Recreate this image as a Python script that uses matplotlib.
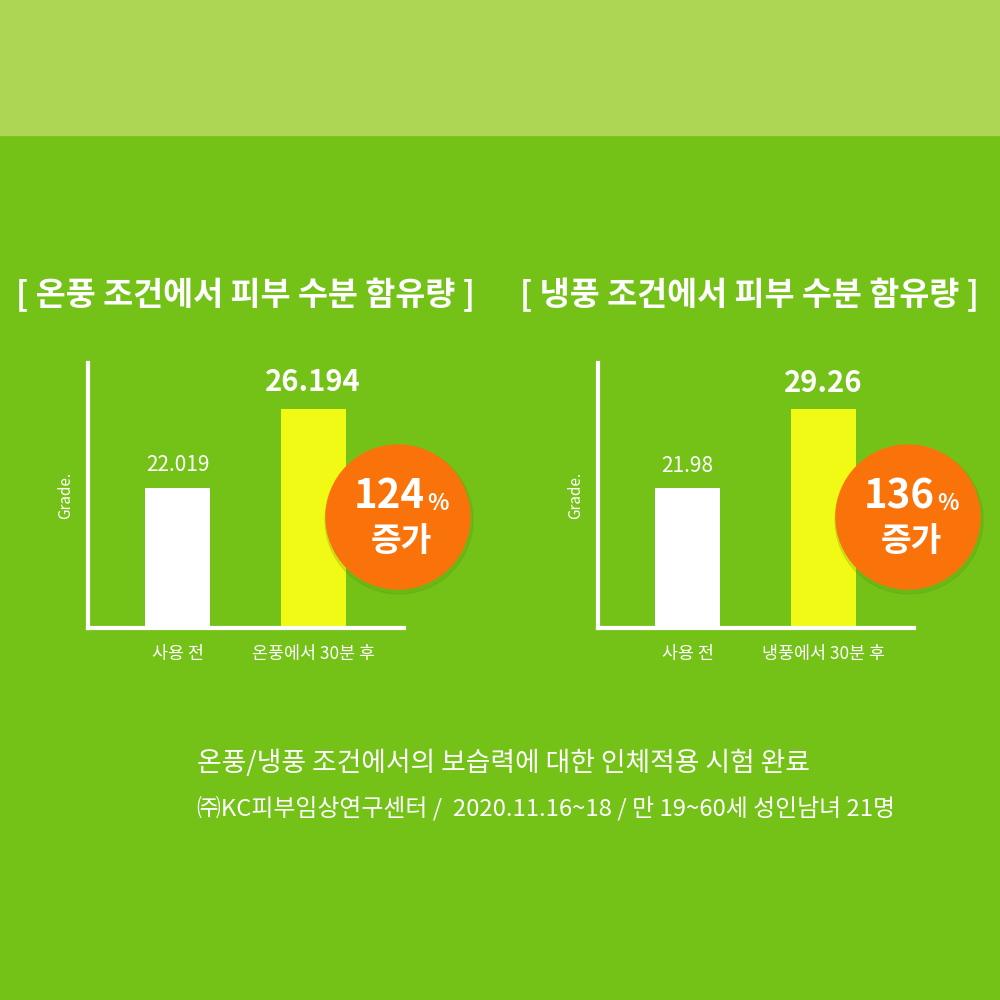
import matplotlib.pyplot as plt
from matplotlib.patches import Rectangle, Circle

plt.rcParams['font.family'] = ['Noto Sans CJK KR', 'DejaVu Sans']

# data
titles = ['[ 온풍 조건에서 피부 수분 함유량 ]', '[ 냉풍 조건에서 피부 수분 함유량 ]']
before_labels = ['사용 전', '사용 전']
after_labels = ['온풍에서 30분 후', '냉풍에서 30분 후']
before_vals = [22.019, 21.98]
after_vals = [26.194, 29.26]
val_text = [['22.019', '26.194'], ['21.98', '29.26']]
increase = ['124', '136']
ylims = [(14.6, 28.6), (9.1, 33.5)]

footer1 = '온풍/냉풍 조건에서의 보습력에 대한 인체적용 시험 완료'
footer2 = '㈜KC피부임상연구센터 /  2020.11.16~18 / 만 19~60세 성인남녀 21명'

GREEN = '#74c218'
TOP = '#acd654'
YELLOW = '#f0fa14'
ORANGE = '#fa730a'
W = 1000


def fx(x):
    return x / W


def fy(y):
    return 1 - y / W


fig = plt.figure(figsize=(10, 10), dpi=100, facecolor=GREEN)
fig.patches.append(Rectangle((0, fy(135)), 1, 135 / W, transform=fig.transFigure,
                             color=TOP, zorder=0))

chart_left = [88, 598]
title_x = [245, 750]
circle_x = [398, 908]

for i in range(2):
    ax = fig.add_axes([fx(chart_left[i]), fy(628), 316 / W, 265 / W])
    ax.set_facecolor('none')
    ax.bar([0, 1], [before_vals[i], after_vals[i]], width=0.48,
           color=['white', YELLOW], bottom=0)
    ax.set_xlim(-0.66, 1.67)
    ax.set_ylim(*ylims[i])
    for s in ['top', 'right']:
        ax.spines[s].set_visible(False)
    for s in ['left', 'bottom']:
        ax.spines[s].set_color('white')
        ax.spines[s].set_linewidth(3)
    ax.set_yticks([])
    ax.set_xticks([0, 1], [before_labels[i], after_labels[i]])
    ax.tick_params(axis='x', length=0, pad=12, colors='white', labelsize=12.5)
    for lab in ax.get_xticklabels():
        lab.set_fontweight('medium')
    ax.set_ylabel('Grade.', color='white', fontsize=11, labelpad=10)

    ax.annotate(val_text[i][0], (0, before_vals[i]), xytext=(0, 8),
                textcoords='offset points', ha='center', va='bottom',
                color='white', fontsize=15, fontweight='medium')
    ax.annotate(val_text[i][1], (1, after_vals[i]), xytext=(0, 8),
                textcoords='offset points', ha='center', va='bottom',
                color='white', fontsize=21, fontweight='bold')

    fig.text(fx(title_x[i]), fy(295), titles[i], ha='center', va='center',
             color='white', fontsize=23.5, fontweight='bold')

    # orange badge
    cx, cy = circle_x[i], 517
    fig.patches.append(Circle((fx(cx + 1), fy(cy + 3)), 74 / W, transform=fig.transFigure,
                              color='#4f8a0c', alpha=0.18, zorder=3))
    fig.patches.append(Circle((fx(cx), fy(cy)), 72 / W, transform=fig.transFigure,
                              color=ORANGE, zorder=4))
    fig.text(fx(cx + 27), fy(497), increase[i], ha='right', va='center',
             color='white', fontsize=29, fontweight='bold', zorder=5)
    fig.text(fx(cx + 29), fy(503), '%', ha='left', va='center',
             color='white', fontsize=16, fontweight='bold', zorder=5)
    fig.text(fx(cx + 3), fy(541), '증가', ha='center', va='center',
             color='white', fontsize=24, fontweight='bold', zorder=5)

fig.text(fx(197), fy(763), footer1, ha='left', va='center', color='white', fontsize=19.3)
fig.text(fx(197), fy(808), footer2, ha='left', va='center', color='white', fontsize=17.2)

fig.savefig('out.png', dpi=100, facecolor=GREEN)
